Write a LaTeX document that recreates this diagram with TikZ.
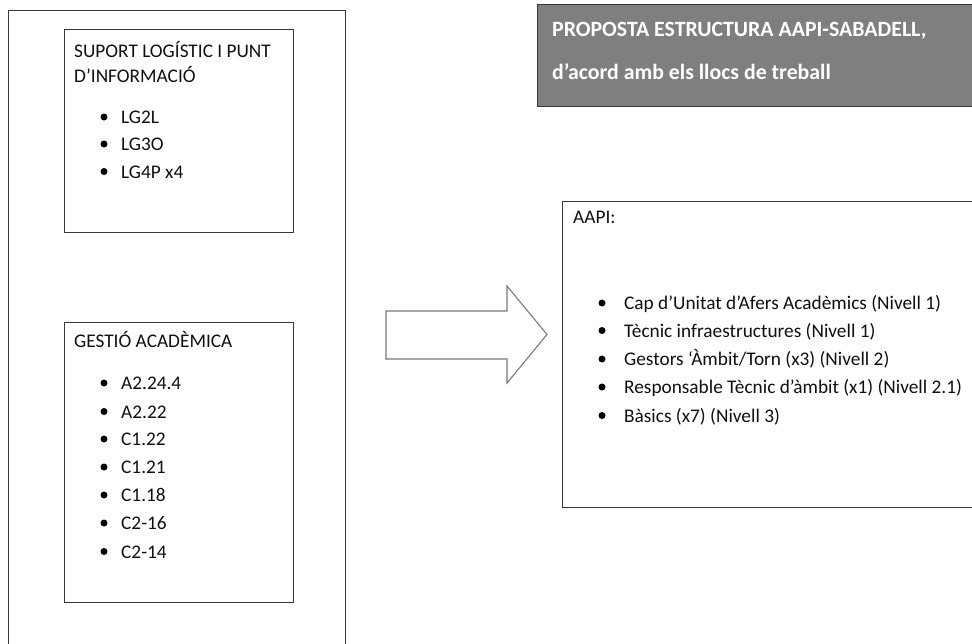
\documentclass[tikz,border=0pt]{standalone}
\usepackage{fontspec}
\setmainfont{Carlito}
\definecolor{boxline}{HTML}{383838}
\definecolor{titlefill}{HTML}{7F7F7F}
\definecolor{arrowline}{HTML}{7A7A7A}
\definecolor{textc}{HTML}{101010}
\begin{document}
\begin{tikzpicture}[x=1pt,y=-1pt,
  box/.style={draw=boxline, line width=1.4pt, rectangle, anchor=north west, inner sep=0pt},
  txt/.style={anchor=base west, inner sep=0pt, font=\fontsize{19.3}{22}\selectfont, text=textc},
  ttl/.style={anchor=base west, inner sep=0pt, font=\fontsize{21.8}{25}\selectfont\bfseries, text=white},
  bul/.style={circle, fill=black, inner sep=0pt, minimum size=7pt}]
\clip (0,0) rectangle (972,643);
\fill[white] (0,0) rectangle (972,643);
% boxes
\node[box, minimum width=337pt, minimum height=660pt] (outer) at (8,9.5) {};
\node[box, minimum width=229pt, minimum height=203pt] (sup) at (64,29) {};
\node[box, minimum width=229pt, minimum height=280pt] (ges) at (64,322) {};
\node[box, fill=titlefill, minimum width=453pt, minimum height=101.5pt] (title) at (537,4) {};
\node[box, minimum width=428pt, minimum height=306pt] (aapi) at (562,201) {};
% block arrow
\draw[draw=arrowline, line width=1.1pt, line join=miter] (386,311) -- (507,311) -- (507,286) -- (547,334.5) -- (507,383) -- (507,359) -- (386,359) -- cycle;
% title text
\node[ttl] (t1) at (552,36) {PROPOSTA ESTRUCTURA AAPI-SABADELL,};
\node[ttl] (t2) at (552,79) {d’acord amb els llocs de treball};
% suport
\node[txt] (s1) at (74,57) {SUPORT LOGÍSTIC I PUNT};
\node[txt] (s2) at (74,82) {D’INFORMACIÓ};
\foreach \y/\t [count=\i] in {123.5/LG2L, 150.5/LG3O, 178/LG4P x4} {
  \node[bul] (sb\i) at (104,\y-6.5) {};
  \node[txt] (si\i) at (121,\y) {\t};
}
% gestio
\node[txt] (g0) at (74,347.5) {GESTIÓ ACADÈMICA};
\foreach \y/\t [count=\i] in {389.5/A2.24.4, 418/A2.22, 445.5/C1.22, 473.5/C1.21, 501.5/C1.18, 529.5/C2-16, 558/C2-14} {
  \node[bul] (gb\i) at (104,\y-6.5) {};
  \node[txt] (gi\i) at (121,\y) {\t};
}
% aapi
\node[txt] (a0) at (573,223.5) {AAPI:};
\foreach \y/\t [count=\i] in {309.5/{Cap d’Unitat d’Afers Acadèmics (Nivell 1)}, 337/{Tècnic infraestructures (Nivell 1)}, 365.5/{Gestors ‘Àmbit/Torn (x3) (Nivell 2)}, 393.5/{Responsable Tècnic d’àmbit (x1) (Nivell 2.1)}, 422/{Bàsics (x7) (Nivell 3)}} {
  \node[bul] (ab\i) at (602,\y-6.5) {};
  \node[txt] (ai\i) at (624,\y) {\t};
}
\end{tikzpicture}
\end{document}
